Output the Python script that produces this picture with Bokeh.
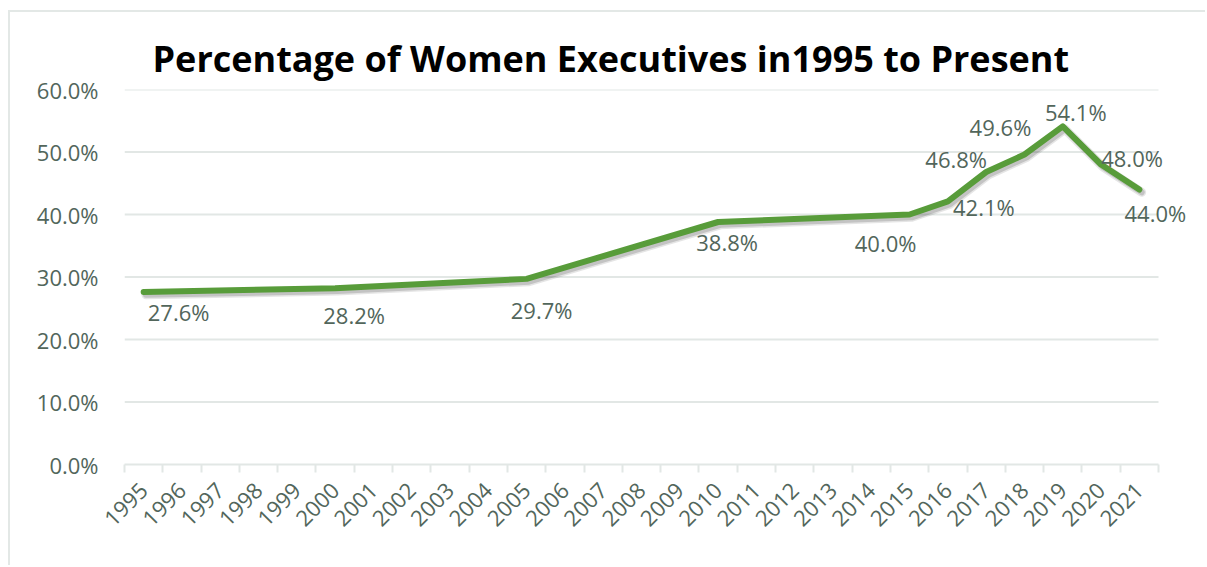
from bokeh.plotting import figure
from bokeh.models import Range1d, FixedTicker, ColumnDataSource, Title, LabelSet
from bokeh.transform import dodge
from bokeh.core.properties import value
from bokeh.embed import file_html
from bokeh.resources import INLINE

# ---- data ----
tick_years = [str(y) for y in range(1995, 2022)]
data_years = [1995, 2000, 2005, 2010, 2015, 2016, 2017, 2018, 2019, 2020, 2021]
pct_values = [27.6, 28.2, 29.7, 38.8, 40.0, 42.1, 46.8, 49.6, 54.1, 48.0, 44.0]
y_ticks = [0, 10, 20, 30, 40, 50, 60]

# label placement (screen px, up = positive; style only)
label_dx = [35, 19, 15, 9, -24, 36, -30, -24, 13, 31, 16]
label_dy = [-20, -27, -31, -20, -28, -6, 13, 28, 14, 7, -23]

GREEN = "#589c3a"
TXT = "#52665b"
GRID = "#e2e7e5"
FONT = "Open Sans"

n = len(tick_years)
xs = [tick_years.index(str(y)) + 0.5 for y in data_years]
src = ColumnDataSource(dict(
    x=xs, y=pct_values,
    lbl=["%.1f%%" % v for v in pct_values],
    dx=label_dx, dy=label_dy,
))

# frame extends to the right canvas edge so labels are not clipped;
# axis and grid lines are bounded to the categories
x_end = n * (1207 - 124) / (1158 - 124)

p = figure(width=1197, height=555, output_backend="svg", toolbar_location=None,
           x_range=Range1d(0, x_end), y_range=Range1d(0, 60),
           min_border_left=114, min_border_right=0, min_border_top=77, min_border_bottom=103,
           title=None)
p.styles = {"margin-top": "10px", "margin-left": "8px",
            "border-top": "2px solid #e3e8e6", "border-left": "2px solid #e3e8e6"}
p.outline_line_color = None
p.background_fill_color = "white"
p.border_fill_color = "white"

t = Title(text="Percentage of Women Executives in1995 to Present", align="left",
          offset=28, standoff=13, text_font=FONT, text_font_size="36px",
          text_font_style="bold", text_color="black")
p.add_layout(t, "above")

# x axis: labels at category centres, ticks at category boundaries
centers = [i + 0.5 for i in range(n)]
bounds = [i for i in range(n + 1)]
p.xaxis.bounds = (0, n)
p.xaxis.ticker = FixedTicker(ticks=centers, minor_ticks=bounds)
p.xaxis.major_label_overrides = {c: y for c, y in zip(centers, tick_years)}
p.xaxis.major_label_orientation = 0.785398
p.xaxis.major_tick_out = 0
p.xaxis.major_tick_in = 0
p.xaxis.minor_tick_out = 8
p.xaxis.minor_tick_in = 0
p.xaxis.minor_tick_line_color = GRID
p.xaxis.minor_tick_line_width = 2
p.xaxis.axis_line_color = GRID
p.xaxis.axis_line_width = 2
p.xaxis.major_label_standoff = 14
p.xaxis.major_label_text_font = FONT
p.xaxis.major_label_text_font_size = "22px"
p.xaxis.major_label_text_color = TXT
p.xgrid.visible = False

p.yaxis.ticker = FixedTicker(ticks=y_ticks)
p.yaxis.major_label_overrides = {v: "%.1f%%" % v for v in y_ticks}
p.yaxis.axis_line_color = None
p.yaxis.major_tick_line_color = None
p.yaxis.minor_tick_line_color = None
p.yaxis.major_label_standoff = 20
p.yaxis.major_label_text_font = FONT
p.yaxis.major_label_text_font_size = "22px"
p.yaxis.major_label_text_color = TXT
p.ygrid.visible = False

# horizontal grid lines limited to the category span
p.segment(x0=0, x1=n, y0=y_ticks[1:], y1=y_ticks[1:], line_color=GRID, line_width=2,
          level="underlay")

# shadow
p.line(x=dodge("x", 0.06, range=p.x_range), y=dodge("y", -0.45, range=p.y_range), source=src,
       line_color="black", line_alpha=0.10, line_width=9, line_join="round", line_cap="round")
p.line(x=dodge("x", 0.06, range=p.x_range), y=dodge("y", -0.45, range=p.y_range), source=src,
       line_color="black", line_alpha=0.15, line_width=6, line_join="round", line_cap="round")
# main line
p.line(x="x", y="y", source=src, line_color=GREEN, line_width=6,
       line_join="round", line_cap="round")

labels = LabelSet(x="x", y="y", text="lbl", source=src, x_offset="dx", y_offset="dy",
                  text_align="center", text_baseline="middle", text_font=value(FONT),
                  text_font_size="22px", text_color=TXT)
p.add_layout(labels)

open("out.html", "w").write(file_html(p, INLINE))
